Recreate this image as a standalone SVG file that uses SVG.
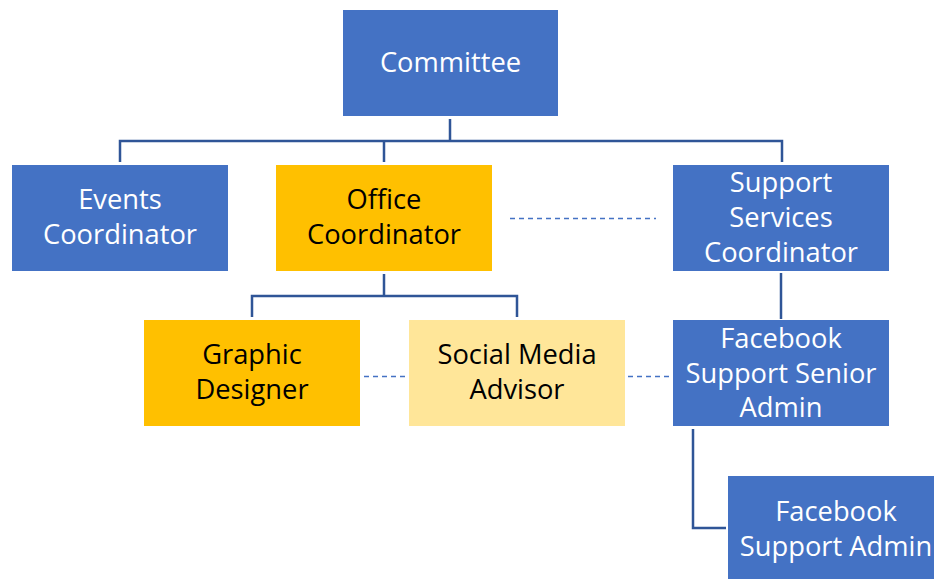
<svg xmlns="http://www.w3.org/2000/svg" width="934" height="579" viewBox="0 0 934 579">
  <style>
    .blue { fill: #4472C4; }
    .gold { fill: #FFC000; }
    .pale { fill: #FFE699; }
    text { font-family: "Open Sans", "Liberation Sans", sans-serif; font-size: 27.3px; text-anchor: middle; }
    .lt { fill: #FFFFFF; }
    .dk { fill: #000000; }
    .link { fill: none; stroke: #2F5597; stroke-width: 2.5; }
    .dash { fill: none; stroke: #4472C4; stroke-width: 1.5; stroke-dasharray: 5 4; }
  </style>
  <rect width="934" height="579" fill="#FFFFFF"/>

  <g id="connectors">
    <path class="link" d="M450 119 V141 M120 162 V141 H782 V162 M384 141 V162"/>
    <path class="link" d="M384 274 V296 M252 317 V296 H517 V317"/>
    <path class="link" d="M781 273 V319"/>
    <path class="link" d="M693 429 V528 H726"/>
    <path class="dash" d="M510 218.5 H656"/>
    <path class="dash" d="M355 376.5 H407"/>
    <path class="dash" d="M628 376.5 H672"/>
  </g>

  <g id="committee">
    <rect class="blue" x="343" y="10" width="215" height="106"/>
    <text class="lt" x="450.5" y="72">Committee</text>
  </g>

  <g id="events-coordinator">
    <rect class="blue" x="12" y="165" width="216" height="106"/>
    <text class="lt" x="120" y="209">Events</text>
    <text class="lt" x="120" y="244">Coordinator</text>
  </g>

  <g id="office-coordinator">
    <rect class="gold" x="276" y="165" width="216" height="106"/>
    <text class="dk" x="384" y="209">Office</text>
    <text class="dk" x="384" y="244">Coordinator</text>
  </g>

  <g id="support-services-coordinator">
    <rect class="blue" x="673" y="165" width="216" height="106"/>
    <text class="lt" x="781" y="192">Support</text>
    <text class="lt" x="781" y="227">Services</text>
    <text class="lt" x="781" y="262">Coordinator</text>
  </g>

  <g id="graphic-designer">
    <rect class="gold" x="144" y="320" width="216" height="106"/>
    <text class="dk" x="252" y="364">Graphic</text>
    <text class="dk" x="252" y="399">Designer</text>
  </g>

  <g id="social-media-advisor">
    <rect class="pale" x="409" y="320" width="216" height="106"/>
    <text class="dk" x="517" y="364">Social Media</text>
    <text class="dk" x="517" y="399">Advisor</text>
  </g>

  <g id="facebook-support-senior-admin">
    <rect class="blue" x="673" y="320" width="216" height="106"/>
    <text class="lt" x="781" y="348">Facebook</text>
    <text class="lt" x="781" y="383">Support Senior</text>
    <text class="lt" x="781" y="417">Admin</text>
  </g>

  <g id="facebook-support-admin">
    <rect class="blue" x="728" y="476" width="216" height="106"/>
    <text class="lt" x="836" y="521">Facebook</text>
    <text class="lt" x="836" y="556">Support Admin</text>
  </g>
</svg>
